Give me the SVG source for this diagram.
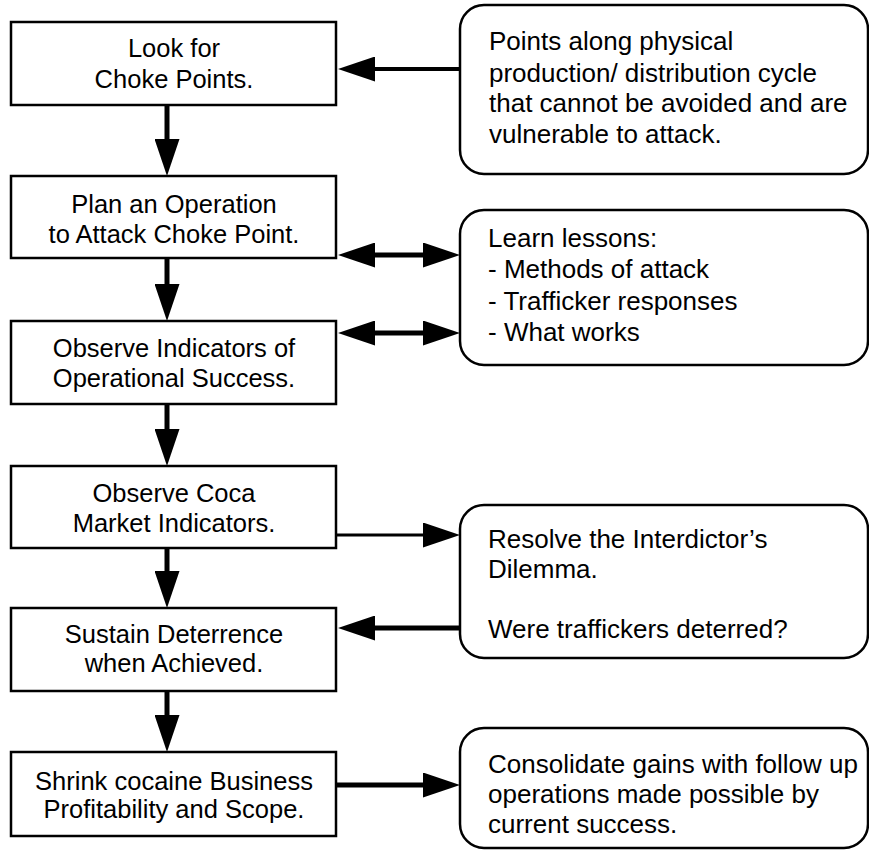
<svg xmlns="http://www.w3.org/2000/svg" width="869" height="850" viewBox="0 0 869 850">
<defs>
<marker id="ah" viewBox="0 0 37 25" markerUnits="userSpaceOnUse" markerWidth="37" markerHeight="25" refX="0" refY="12.5" orient="auto-start-reverse">
<path d="M0,0 L37,12.5 L0,25 z" fill="#000"/>
</marker>
</defs>
<style>
.box{fill:#fff;stroke:#000;stroke-width:2.5}
.note{fill:#fff;stroke:#000;stroke-width:2.5}
text{font-family:"Liberation Sans",Arial,Helvetica,sans-serif;font-size:25.5px;fill:#000}
.r{font-size:26px}
.c{text-anchor:middle}
.con{stroke:#000;fill:none;stroke-width:5}
.thin{stroke-width:3}
</style>
<rect width="869" height="850" fill="#fff"/>
<g id="connectors">
<line class="con" x1="167" y1="105" x2="167" y2="139" marker-end="url(#ah)"/>
<line class="con" x1="167" y1="258" x2="167" y2="284" marker-end="url(#ah)"/>
<line class="con" x1="167" y1="404" x2="167" y2="429" marker-end="url(#ah)"/>
<line class="con" x1="167" y1="548" x2="167" y2="571" marker-end="url(#ah)"/>
<line class="con" x1="167" y1="691" x2="167" y2="715" marker-end="url(#ah)"/>
<line class="con" x1="460" y1="69" x2="375" y2="69" marker-end="url(#ah)" style="stroke-width:4"/>
<line class="con" x1="375" y1="255" x2="423" y2="255" marker-start="url(#ah)" marker-end="url(#ah)"/>
<line class="con" x1="375" y1="333" x2="423" y2="333" marker-start="url(#ah)" marker-end="url(#ah)"/>
<line class="con thin" x1="336" y1="535" x2="423" y2="535" marker-end="url(#ah)"/>
<line class="con" x1="460" y1="628" x2="375" y2="628" marker-end="url(#ah)"/>
<line class="con" x1="336" y1="785" x2="423" y2="785" marker-end="url(#ah)"/>
</g>
<g id="n1">
<rect class="box" x="11" y="22" width="325" height="83"/>
<text class="c" x="174" y="57">Look for</text>
<text class="c" x="174" y="88">Choke Points.</text>
</g>
<g id="n2">
<rect class="box" x="11" y="176" width="325" height="82"/>
<text class="c" x="174" y="213">Plan an Operation</text>
<text class="c" x="174" y="243">to Attack Choke Point.</text>
</g>
<g id="n3">
<rect class="box" x="11" y="321" width="325" height="83"/>
<text class="c" x="174" y="357">Observe Indicators of</text>
<text class="c" x="174" y="387">Operational Success.</text>
</g>
<g id="n4">
<rect class="box" x="11" y="466" width="325" height="82"/>
<text class="c" x="174" y="502">Observe Coca</text>
<text class="c" x="174" y="532">Market Indicators.</text>
</g>
<g id="n5">
<rect class="box" x="11" y="608" width="325" height="83"/>
<text class="c" x="174" y="643">Sustain Deterrence</text>
<text class="c" x="174" y="672">when Achieved.</text>
</g>
<g id="n6">
<rect class="box" x="11" y="752" width="325" height="84"/>
<text class="c" x="174" y="790">Shrink cocaine Business</text>
<text class="c" x="174" y="818">Profitability and Scope.</text>
</g>
<g id="nA">
<rect class="note" x="460" y="5" width="408" height="169" rx="24" ry="24"/>
<text class="r" x="489" y="50">Points along physical</text>
<text class="r" x="489" y="82">production/ distribution cycle</text>
<text class="r" x="489" y="112">that cannot be avoided and are</text>
<text class="r" x="489" y="143">vulnerable to attack.</text>
</g>
<g id="nB">
<rect class="note" x="460" y="210" width="408" height="155" rx="24" ry="24"/>
<text class="r" x="488" y="247">Learn lessons:</text>
<text class="r" x="488" y="278">- Methods of attack</text>
<text class="r" x="488" y="310">- Trafficker responses</text>
<text class="r" x="488" y="341">- What works</text>
</g>
<g id="nC">
<rect class="note" x="460" y="505" width="408" height="153" rx="24" ry="24"/>
<text class="r" x="488" y="548">Resolve the Interdictor’s</text>
<text class="r" x="488" y="578">Dilemma.</text>
<text class="r" x="488" y="638">Were traffickers deterred?</text>
</g>
<g id="nD">
<rect class="note" x="460" y="728" width="408" height="120" rx="24" ry="24"/>
<text class="r" x="488" y="773">Consolidate gains with follow up</text>
<text class="r" x="488" y="803">operations made possible by</text>
<text class="r" x="488" y="833">current success.</text>
</g>
</svg>
